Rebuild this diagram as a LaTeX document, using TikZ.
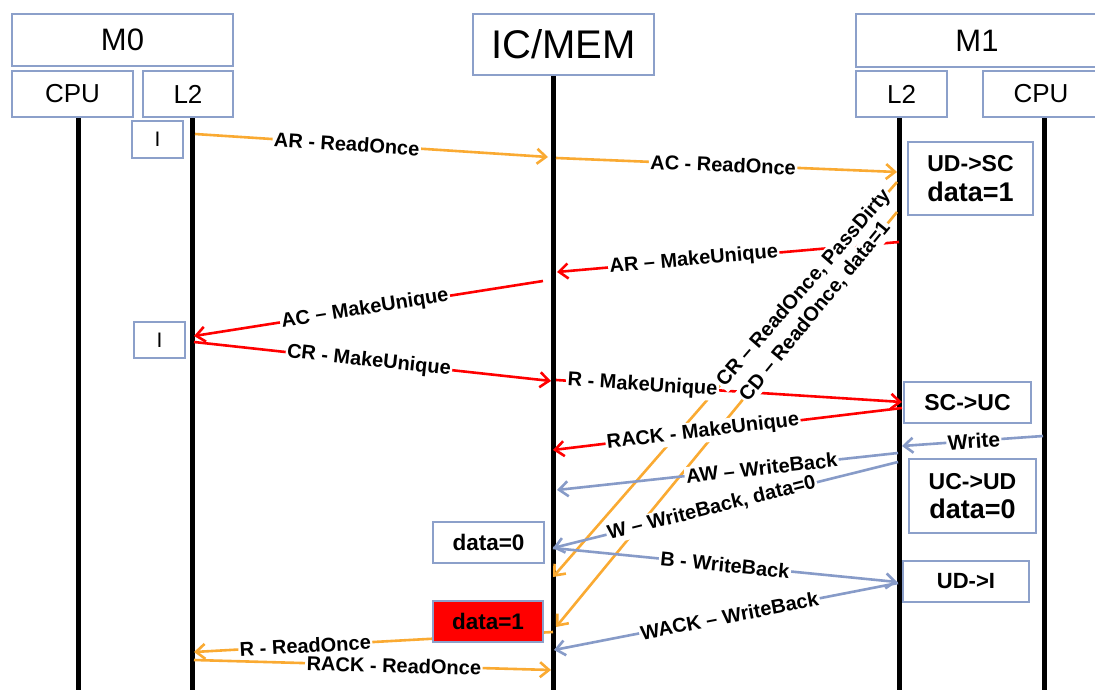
\documentclass[tikz,border=0pt]{standalone}
\usepackage{fontspec}
\setmainfont{Liberation Sans}
\usetikzlibrary{arrows.meta}
\definecolor{bord}{RGB}{140,160,202}
\definecolor{orng}{RGB}{250,170,50}
\definecolor{blu}{RGB}{135,155,200}
\definecolor{rd}{RGB}{255,0,0}
\begin{document}
\begin{tikzpicture}[x=1pt,y=-1pt,
  hdr/.style={draw=bord,line width=2pt,fill=white,inner sep=0pt,align=center},
  life/.style={line width=5pt,black},
  msg/.style={line width=2.6pt,-{Straight Barb[length=9pt,width=15pt]}},
  lbl/.style={fill=white,text=black,inner sep=1.5pt,font=\fontsize{20}{22}\selectfont\bfseries,sloped},
  statebox/.style={draw=bord,line width=2pt,fill=white,inner sep=0pt,align=center,font=\bfseries},
  fA/.style={font=\fontsize{31}{33}\selectfont},
  fB/.style={font=\fontsize{26}{28}\selectfont}
]
\useasboundingbox (0,0) rectangle (1095,690);
\clip (0,0) rectangle (1095,690);
\fill[white] (0,0) rectangle (1095,690);

% lifeline coordinates
\coordinate (c0t) at (78,117);   \coordinate (c0b) at (78,695);
\coordinate (l0t) at (192,117);  \coordinate (l0b) at (192,695);
\coordinate (ict) at (553,75);   \coordinate (icb) at (553,695);
\coordinate (l1t) at (899,117);  \coordinate (l1b) at (899,695);
\coordinate (c1t) at (1044,117); \coordinate (c1b) at (1044,695);

\draw[life] (c0t) -- (c0b);
\draw[life] (l0t) -- (l0b);
\draw[life] (ict) -- (icb);
\draw[life] (l1t) -- (l1b);
\draw[life] (c1t) -- (c1b);

% headers
\node[hdr,fA,minimum width=221pt,minimum height=52pt] (m0) at (122.5,40) {M0};
\node[hdr,fB,minimum width=121pt,minimum height=46pt] (cpu0) at (72.5,94) {CPU};
\node[hdr,fB,minimum width=90pt,minimum height=46pt] (l20) at (188,94) {L2};
\node[hdr,font=\fontsize{40}{42}\selectfont,minimum width=181pt,minimum height=61pt] (icmem) at (563.5,44.5) {IC/MEM};
\node[hdr,fA,minimum width=244pt,minimum height=53pt,text width=230pt] (m1) at (978,40.5) {\hspace*{-2pt}M1\hspace*{-15pt}};
\node[hdr,fB,minimum width=91pt,minimum height=46pt] (l21) at (901.5,94) {L2};
\node[hdr,fB,minimum width=117pt,minimum height=46pt,text width=110pt] (cpu1) at (1041.5,94) {\hspace*{-1pt}CPU\hspace*{-14pt}};

% message coordinates
\coordinate (a1s) at (195,134);  \coordinate (a1e) at (548,157);
\coordinate (a2s) at (556,158);  \coordinate (a2e) at (897,172);
\coordinate (a3s) at (899,242);  \coordinate (a3e) at (557,272);
\coordinate (a4s) at (543,281);  \coordinate (a4e) at (194,336);
\coordinate (a5s) at (194,342);  \coordinate (a5e) at (551,381);
\coordinate (a6s) at (556,380);  \coordinate (a6e) at (902,402);
\coordinate (a7s) at (902,408);  \coordinate (a7e) at (553,450);
\coordinate (a8s) at (897,182);  \coordinate (a8e) at (553,577);
\coordinate (a9s) at (897,212);  \coordinate (a9e) at (556,627);
\coordinate (a10s) at (1043,436); \coordinate (a10e) at (902,446);
\coordinate (a11s) at (898,453); \coordinate (a11e) at (557,490);
\coordinate (a12s) at (898,462); \coordinate (a12e) at (553,548);
\coordinate (a13s) at (553,548); \coordinate (a13e) at (897,582);
\coordinate (a14s) at (898,583); \coordinate (a14e) at (554,650);
\coordinate (a15s) at (553,632); \coordinate (a15e) at (194,652);
\coordinate (a16s) at (194,660); \coordinate (a16e) at (551,670);

% orange diagonal lines first
\draw[msg,orng] (a8s) -- (a8e);
\draw[msg,orng] (a9s) -- (a9e);

\draw[msg,orng] (a1s) -- node[lbl,pos=.43]{AR - ReadOnce} (a1e);
\draw[msg,orng] (a2s) -- node[lbl,pos=.49]{AC - ReadOnce} (a2e);
\draw[msg,rd] (a3s) -- node[lbl,pos=.60]{AR -- MakeUnique} (a3e);
\draw[msg,rd] (a4s) -- node[lbl,pos=.51]{AC -- MakeUnique} (a4e);
\draw[msg,rd] (a5s) -- node[lbl,pos=.49]{CR - MakeUnique} (a5e);
\draw[msg,rd] (a6s) -- node[lbl,pos=.25]{R - MakeUnique} (a6e);
\draw[msg,rd] (a7s) -- node[lbl,pos=.57]{RACK - MakeUnique} (a7e);
\draw[msg,blu] (a10s) -- node[lbl,pos=.49,font=\fontsize{21}{23}\selectfont\bfseries]{Write} (a10e);
\draw[msg,blu] (a11s) -- node[lbl,pos=.40]{AW -- WriteBack} (a11e);
\draw[msg,blu] (a12s) -- node[lbl,pos=.54]{W -- WriteBack, data=0} (a12e);
\draw[msg,blu] (a13s) -- node[lbl,pos=.50]{B - WriteBack} (a13e);
\draw[msg,blu] (a14s) -- node[lbl,pos=.49]{WACK -- WriteBack} (a14e);
\draw[msg,orng] (a15s) -- node[lbl,pos=.69]{R - ReadOnce} (a15e);
\draw[msg,orng] (a16s) -- node[lbl,pos=.56]{RACK - ReadOnce} (a16e);

% labels of diagonal lines
\path (a8s) -- node[lbl,pos=.27]{CR -- ReadOnce, PassDirty} (a8e);
\path (a9s) -- node[lbl,pos=.24]{CD -- ReadOnce, data=1} (a9e);

% state boxes
\node[hdr,font=\fontsize{21}{23}\selectfont,minimum width=51pt,minimum height=37pt] (st1) at (157.5,139.5) {I};
\node[hdr,font=\fontsize{21}{23}\selectfont,minimum width=51pt,minimum height=36pt] (st2) at (159.5,340) {I};
\node[statebox,minimum width=125pt,minimum height=73pt] (st3) at (970.5,178.5)
  {\fontsize{23}{28}\selectfont UD->SC\\[9pt]\fontsize{27}{28}\selectfont data=1};
\node[statebox,font=\fontsize{23}{25}\selectfont\bfseries,minimum width=127pt,minimum height=41pt] (st4) at (967.5,402.5) {SC->UC};
\node[statebox,minimum width=127pt,minimum height=74pt] (st5) at (972.5,496)
  {\fontsize{23}{28}\selectfont UC->UD\\[9pt]\fontsize{27}{28}\selectfont data=0};
\node[statebox,font=\fontsize{22}{24}\selectfont\bfseries,minimum width=126pt,minimum height=41pt] (st6) at (966,581.5) {UD->I};
\node[statebox,font=\fontsize{22.5}{24}\selectfont\bfseries,minimum width=111pt,minimum height=41pt] (st7) at (488.5,542.5) {data=0};
\node[statebox,fill=rd,font=\fontsize{22.5}{24}\selectfont\bfseries,minimum width=110pt,minimum height=41pt] (st8) at (488,621.5) {data=1};
\end{tikzpicture}
\end{document}
